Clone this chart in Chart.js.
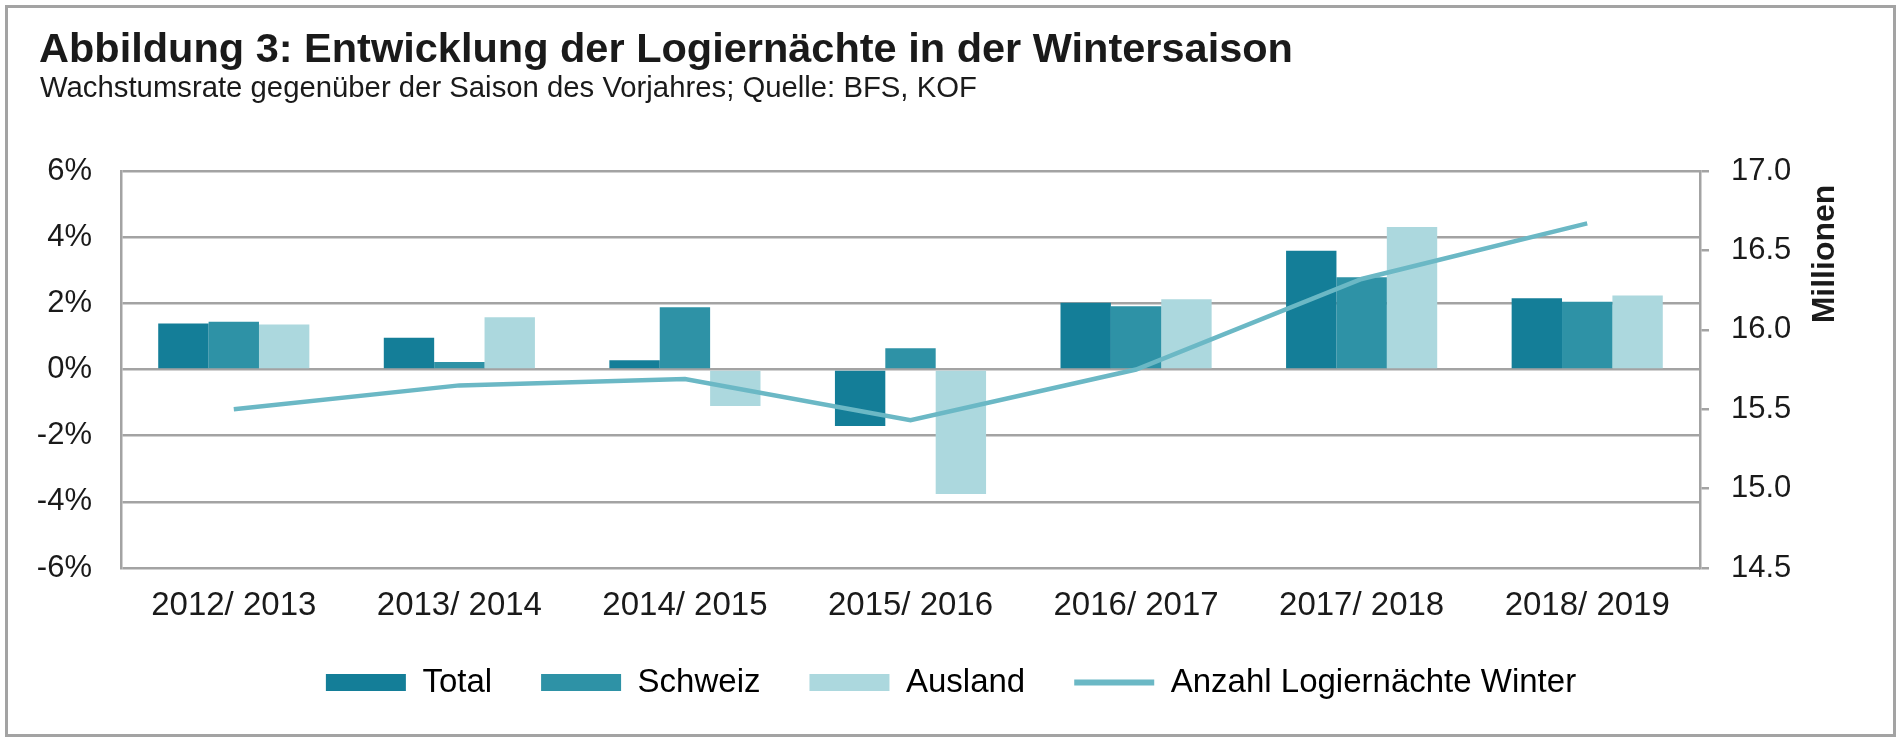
<!DOCTYPE html>
<html lang="de">
<head>
<meta charset="utf-8">
<title>Abbildung 3: Entwicklung der Logiernächte in der Wintersaison</title>
<script src="https://cdn.jsdelivr.net/npm/chart.js@4.4.1/dist/chart.umd.min.js"></script>
<style>
  html, body { margin: 0; padding: 0; background: #fff; overflow: hidden; }
  #wrap { position: relative; width: 1902px; height: 742px; }
</style>
</head>
<body>
<div id="wrap"><canvas id="chart" width="1902" height="742"></canvas></div>
<script>
// Daten
const saisons = ['2012/ 2013', '2013/ 2014', '2014/ 2015', '2015/ 2016', '2016/ 2017', '2017/ 2018', '2018/ 2019'];
const total   = [1.39, 0.96, 0.28, -1.71, 2.02, 3.59, 2.15];
const schweiz = [1.44, 0.23, 1.88, 0.64, 1.91, 2.79, 2.05];
const ausland = [1.36, 1.58, -1.10, -3.76, 2.12, 4.31, 2.24];
const logiernaechte = [15.50, 15.65, 15.69, 15.43, 15.75, 16.32, 16.67]; // Millionen
const prozentTicks = [-6, -4, -2, 0, 2, 4, 6];
const millionenTicks = [14.5, 15.0, 15.5, 16.0, 16.5, 17.0];

const GRAU = '#a3a3a3';
const TEXT = '#1a1a1a';
const FONT = "'Liberation Sans', Arial, Helvetica, sans-serif";

// Titel, Rahmen und Achsentitel rechts
const rahmenPlugin = {
  id: 'rahmen',
  afterDraw(chart) {
    const ctx = chart.ctx;
    const area = chart.chartArea;
    ctx.save();
    ctx.strokeStyle = GRAU;
    ctx.lineWidth = 3;
    ctx.strokeRect(6.5, 6.5, 1888, 729);

    ctx.fillStyle = TEXT;
    ctx.textBaseline = 'alphabetic';
    ctx.textAlign = 'left';
    ctx.font = 'bold 41.5px ' + FONT;
    ctx.fillText('Abbildung 3: Entwicklung der Logiernächte in der Wintersaison', 39, 62);
    ctx.font = '29.3px ' + FONT;
    ctx.fillText('Wachstumsrate gegenüber der Saison des Vorjahres; Quelle: BFS, KOF', 40, 97);

    ctx.translate(area.right + 125, area.top + 83);
    ctx.rotate(-Math.PI / 2);
    ctx.textAlign = 'center';
    ctx.textBaseline = 'middle';
    ctx.font = 'bold 32px ' + FONT;
    ctx.fillText('Millionen', 0, 0);
    ctx.restore();
  }
};

new Chart(document.getElementById('chart'), {
  data: {
    labels: saisons,
    datasets: [
      { type: 'bar', label: 'Total', data: total, backgroundColor: '#147e98', yAxisID: 'y', order: 1 },
      { type: 'bar', label: 'Schweiz', data: schweiz, backgroundColor: '#2e92a6', yAxisID: 'y', order: 1 },
      { type: 'bar', label: 'Ausland', data: ausland, backgroundColor: '#acd8de', yAxisID: 'y', order: 1 },
      { type: 'line', label: 'Anzahl Logiernächte Winter', data: logiernaechte, borderColor: '#6bb8c5',
        backgroundColor: '#6bb8c5', borderWidth: 4.5, pointRadius: 0, tension: 0, yAxisID: 'y1', order: 0 }
    ]
  },
  options: {
    responsive: false,
    animation: false,
    devicePixelRatio: 1,
    layout: { padding: { top: 171, bottom: 33, left: 0, right: 0 } },
    datasets: { bar: { categoryPercentage: 0.67, barPercentage: 1.0 } },
    plugins: {
      title: { display: false },
      tooltip: { enabled: false },
      legend: {
        position: 'bottom',
        labels: {
          color: TEXT,
          font: { family: FONT, size: 33 },
          usePointStyle: true,
          pointStyleWidth: 80,
          boxHeight: 17,
          padding: 49,
          sort: (a, b) => a.datasetIndex - b.datasetIndex,
          generateLabels(chart) {
            return chart.data.datasets.map((ds, i) => ({
              text: ds.label,
              datasetIndex: i,
              fillStyle: ds.backgroundColor,
              strokeStyle: ds.type === 'line' ? ds.borderColor : ds.backgroundColor,
              lineWidth: ds.type === 'line' ? 6 : 0,
              pointStyle: ds.type === 'line' ? 'line' : 'rect',
              hidden: false
            }));
          }
        }
      }
    },
    scales: {
      x: {
        grid: { display: false },
        border: { display: false },
        // mirror: Beschriftung wird nicht auf die Achsenbox zugeschnitten (negatives padding = unterhalb)
        ticks: { color: TEXT, font: { family: FONT, size: 33 }, mirror: true, padding: -57.5, maxRotation: 0 },
        afterFit(s) { s.height = 43 + 6; }
      },
      y: {
        position: 'left',
        min: -6, max: 6,
        afterBuildTicks(s) { s.ticks = prozentTicks.map(v => ({ value: v })); },
        grid: { color: GRAU, lineWidth: 2.5, drawTicks: false },
        border: { display: true, color: GRAU, width: 2.5 },
        ticks: { color: TEXT, font: { family: FONT, size: 31 }, padding: 29, callback: v => v + '%' },
        afterFit(s) { s.width = 121; }
      },
      y1: {
        position: 'right',
        min: 14.5, max: 17,
        afterBuildTicks(s) { s.ticks = millionenTicks.map(v => ({ value: v })); },
        grid: { drawOnChartArea: false, color: GRAU, lineWidth: 2.5, drawTicks: true, tickLength: 9 },
        border: { display: true, color: GRAU, width: 2.5 },
        ticks: { color: TEXT, font: { family: FONT, size: 31 }, padding: 22, callback: v => v.toFixed(1) },
        afterFit(s) { s.width = 202; }
      }
    }
  },
  plugins: [rahmenPlugin]
});
</script>
</body>
</html>
